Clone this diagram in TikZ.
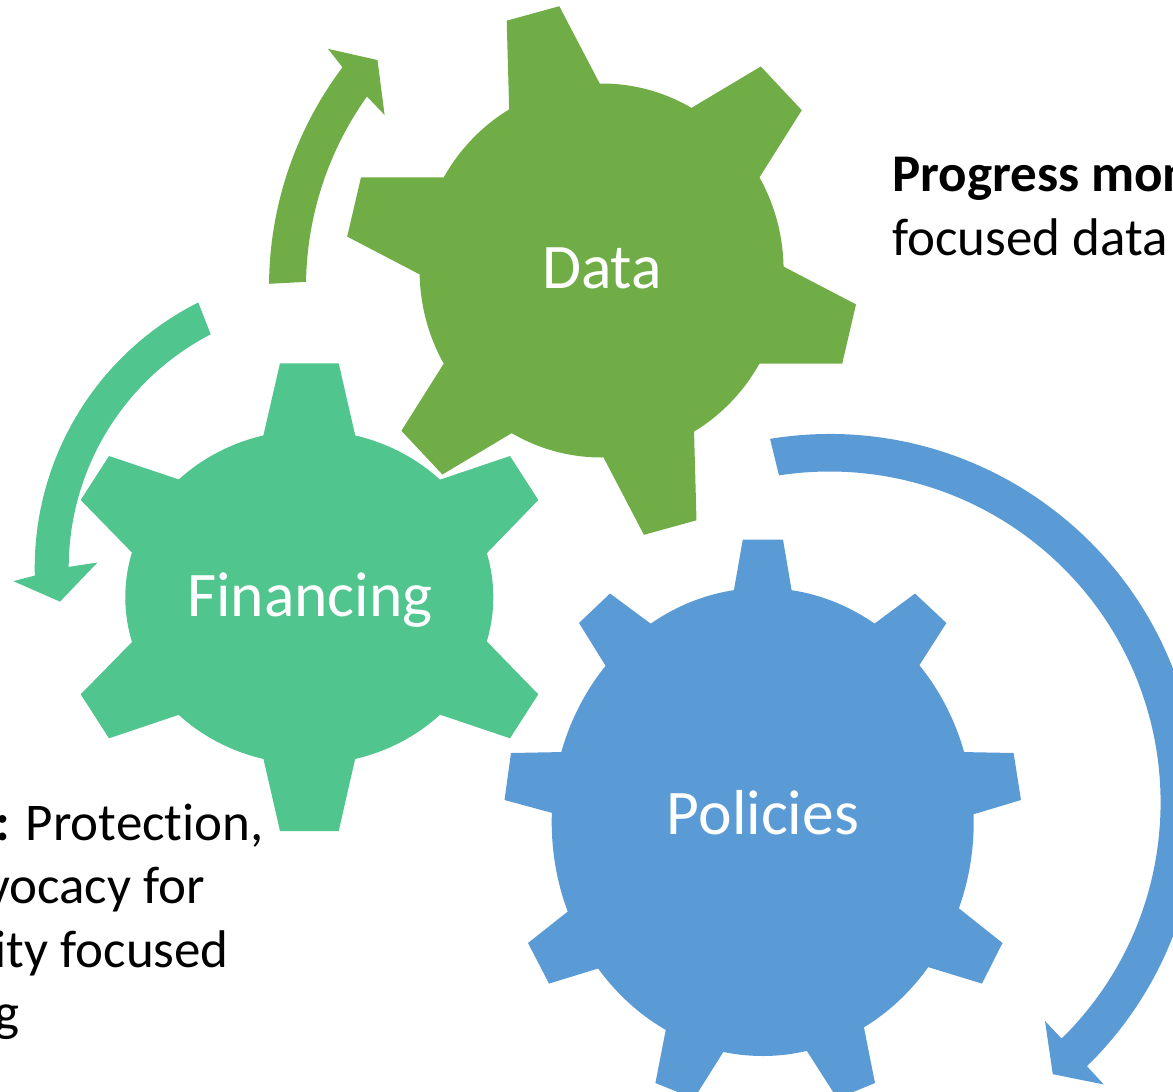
\documentclass[tikz,border=0pt]{standalone}
\usepackage{fontspec}
\setmainfont[Ligatures=NoCommon]{Carlito}
\usetikzlibrary{calc}
\definecolor{datagreen}{RGB}{112,173,71}
\definecolor{fingreen}{RGB}{80,197,142}
\definecolor{polblue}{RGB}{91,155,213}
% tooth: colour, base1, top1, top2, base2 (bases extended inward along the flanks)
\newcommand{\gtooth}[5]{\fill[#1] ($#3!1.3!#2$) -- #3 -- #4 -- ($#4!1.3!#5$) -- cycle;}
\tikzset{
  geartext/.style={text=white, inner sep=0pt, anchor=base, font=\fontsize{63.5}{70}\selectfont},
  sidetext/.style={text=black, inner sep=0pt, font=\fontsize{53}{64}\selectfont}
}
\begin{document}
\begin{tikzpicture}[x=1pt,y=-1pt]
\useasboundingbox (0,0) rectangle (1173,1092);
\clip (0,0) rectangle (1173,1092);

% ---------- circular arrows ----------
\fill[datagreen] ($(634,287)+(180.5:365)$) arc[start angle=180.5,end angle=217,radius=365]
  -- ($(634,287)+(217.9:387.7)$) -- ($(634,287)+(221.5:342.5)$) -- ($(634,287)+(214.6:303)$)
  -- ($(634,287)+(215.5:328)$) arc[start angle=215.5,end angle=180.9,radius=328] -- cycle;

\fill[fingreen] ($(331.7,567.8)+(243.3:297)$) arc[start angle=243.3,end angle=178.5,radius=297]
  -- ($(331.7,567.8)+(177.6:318.7)$) -- ($(331.7,567.8)+(172.9:273.8)$) -- ($(331.7,567.8)+(181.3:234.3)$)
  -- ($(331.7,567.8)+(180.2:263)$) arc[start angle=180.2,end angle=242.6,radius=263] -- cycle;

\fill[polblue] ($(829.6,802.5)+(260.7:368.5)$) arc[start angle=260.7,end angle=405.7,radius=368.5]
  -- ($(829.6,802.5)+(405.8:393.3)$) -- ($(829.6,802.5)+(410.6:351.6)$) -- ($(829.6,802.5)+(405.4:306.8)$)
  -- ($(829.6,802.5)+(405.5:331)$) arc[start angle=405.5,end angle=261.2,radius=331] -- cycle;

% ---------- Data gear ----------
\fill[datagreen] (601.6,270.5) ellipse[x radius=182,y radius=187];
\gtooth{datagreen}{(509,103.6)}{(506.7,20.7)}{(559.3,6.2)}{(597.6,79.5)}
\gtooth{datagreen}{(691.6,107.8)}{(760.8,66.5)}{(801.8,110.2)}{(758,179.7)}
\gtooth{datagreen}{(784.7,267.2)}{(856,304.4)}{(842.2,363.7)}{(761.6,363.7)}
\gtooth{datagreen}{(694.2,437.4)}{(696.5,520.3)}{(643.9,534.8)}{(605.6,461.5)}
\gtooth{datagreen}{(511.6,433.2)}{(442.4,474.5)}{(401.4,430.8)}{(445.2,361.3)}
\gtooth{datagreen}{(418.5,273.8)}{(347.2,236.6)}{(361,177.3)}{(441.6,177.3)}

% ---------- Financing gear ----------
\fill[fingreen] (309.3,597.2) ellipse[x radius=184,y radius=167];
\gtooth{fingreen}{(263.3,435.7)}{(280,363.3)}{(338.7,363.3)}{(355.3,435.7)}
\gtooth{fingreen}{(441,479.3)}{(510,456)}{(538.3,500)}{(487.7,552.3)}
\gtooth{fingreen}{(487.7,642.3)}{(538.3,694.3)}{(510,738.3)}{(441,715)}
\gtooth{fingreen}{(355.3,758.3)}{(338.7,831)}{(280,831)}{(263.3,758.3)}
\gtooth{fingreen}{(178.3,715)}{(109,738.3)}{(80.7,694.3)}{(131.7,642.3)}
\gtooth{fingreen}{(131.7,552.3)}{(80.7,500)}{(109,456)}{(178.3,479.3)}

% ---------- Policies gear ----------
\fill[polblue] (762.7,822) ellipse[x radius=211,y radius=234];
\gtooth{polblue}{(733.5,592.5)}{(742.8,539.5)}{(783,539.5)}{(792,592.5)}
\gtooth{polblue}{(872.6,625)}{(915,593.5)}{(946.4,623)}{(917.6,668)}
\gtooth{polblue}{(960.5,752)}{(1013.6,753)}{(1021,800)}{(975.5,813.7)}
\gtooth{polblue}{(961,910)}{(1002.5,943)}{(982,983.6)}{(931,968)}
\gtooth{polblue}{(864.6,1030.7)}{(875,1083)}{(837.3,1098.6)}{(808.6,1053.6)}
\gtooth{polblue}{(722.3,1053.6)}{(694,1098.6)}{(655.4,1083)}{(665.6,1030.7)}
\gtooth{polblue}{(599.8,968)}{(549,983.6)}{(528,943)}{(569.7,910)}
\gtooth{polblue}{(555,813.7)}{(504.5,800)}{(511,753)}{(564.6,752)}
\gtooth{polblue}{(607,668)}{(579,623)}{(610,593.5)}{(652.5,625)}

% ---------- gear labels ----------
\node[geartext] (data) at (602,288) {Data};
\node[geartext] (fin) at (310,616) {Financing};
\node[geartext] (pol) at (763,834) {Policies};

% ---------- side texts ----------
\node[sidetext, anchor=base west] (pm1) at (892,191) {\bfseries Progress mon};
\node[sidetext, anchor=base west] (pm2) at (892,255) {focused data};
\node[sidetext, anchor=base west] (l1) at (-5,840) {\textbf{:} Protection,};
\node[sidetext, anchor=base east] (l2) at (205,903.5) {vocacy for};
\node[sidetext, anchor=base east] (l3) at (229,967) {ity focused};
\node[sidetext, anchor=base east] (l4) at (20,1030.5) {g};
\end{tikzpicture}
\end{document}
